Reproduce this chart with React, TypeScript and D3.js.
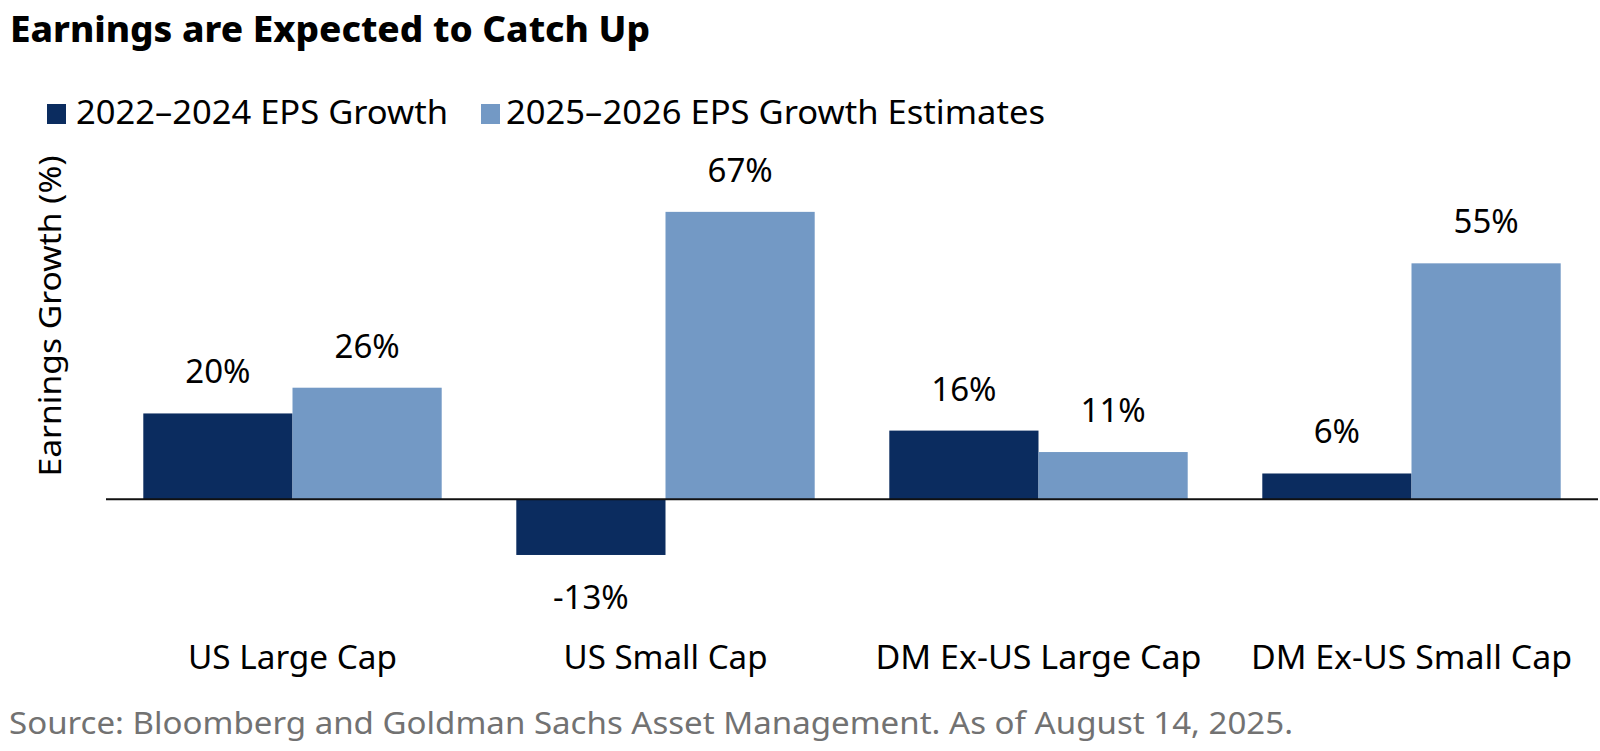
import React from "react";
import * as d3 from "d3";

const categories = ["US Large Cap", "US Small Cap", "DM Ex-US Large Cap", "DM Ex-US Small Cap"];
const seriesNames = ["2022–2024 EPS Growth", "2025–2026 EPS Growth Estimates"];
const growth2224 = [20, -13, 16, 6];
const growth2526 = [26, 67, 11, 55];
const seriesColors = ["#0b2c5f", "#7399c5"];

const W = 1600;
const H = 751;
const FONT = "'Noto Sans', 'Open Sans', sans-serif";

const catLabelWidths = [209, 204, 326, 321];

export default function App() {
  const x0 = d3
    .scaleBand<string>()
    .domain(categories)
    .range([106, 1598])
    .paddingInner(0.2)
    .paddingOuter(0.1);
  const x1 = d3
    .scaleBand<number>()
    .domain([0, 1])
    .range([0, x0.bandwidth()])
    .padding(0);
  const y = d3.scaleLinear().domain([-20, 70]).range([585, 199]);

  const series = [growth2224, growth2526];

  return (
    <svg
      width={W}
      height={H}
      style={{ position: "absolute", left: 0, top: 0, background: "#fff" }}
      fontFamily={FONT}
    >
      <rect x={0} y={0} width={W} height={H} fill="#fff" />
      {/* Title */}
      <text
        x={10}
        y={42}
        fontSize={35}
        fontWeight={800}
        fill="#000"
        textLength={640}
        lengthAdjust="spacingAndGlyphs"
      >
        Earnings are Expected to Catch Up
      </text>

      {/* Legend */}
      <rect x={47} y={104} width={19} height={20} fill={seriesColors[0]} />
      <text x={76} y={124} fontSize={32} fill="#000" textLength={372} lengthAdjust="spacingAndGlyphs">
        {seriesNames[0]}
      </text>
      <rect x={481} y={104} width={19} height={20} fill={seriesColors[1]} />
      <text x={506} y={124} fontSize={32} fill="#000" textLength={539} lengthAdjust="spacingAndGlyphs">
        {seriesNames[1]}
      </text>

      {/* Y axis label */}
      <text
        transform={`translate(61, 316) rotate(-90)`}
        textAnchor="middle"
        fontSize={31}
        fill="#000"
        textLength={321}
        lengthAdjust="spacingAndGlyphs"
      >
        Earnings Growth (%)
      </text>

      {/* Bars */}
      {categories.map((c, ci) => (
        <g key={c} transform={`translate(${x0(c)},0)`}>
          {series.map((s, si) => {
            const v = s[ci];
            const top = y(Math.max(0, v));
            const bottom = y(Math.min(0, v));
            const bx = x1(si)!;
            return (
              <g key={si}>
                <rect
                  x={bx}
                  y={top}
                  width={x1.bandwidth()}
                  height={bottom - top}
                  fill={seriesColors[si]}
                />
                <text
                  x={bx + x1.bandwidth() / 2}
                  y={v >= 0 ? top - 30 : bottom + 54}
                  textAnchor="middle"
                  fontSize={33}
                  fill="#000"
                >
                  {`${v}%`}
                </text>
              </g>
            );
          })}
        </g>
      ))}

      {/* Zero line */}
      <line x1={106} x2={1598} y1={y(0)} y2={y(0)} stroke="#111" strokeWidth={2} />

      {/* Category labels */}
      {categories.map((c, ci) => (
        <text
          key={c}
          x={x0(c)! + x0.bandwidth() / 2}
          y={669}
          textAnchor="middle"
          fontSize={32}
          fill="#000"
          textLength={catLabelWidths[ci]}
          lengthAdjust="spacingAndGlyphs"
        >
          {c}
        </text>
      ))}

      {/* Source */}
      <text
        x={9}
        y={734}
        fontSize={30}
        fill="#727272"
        textLength={1284}
        lengthAdjust="spacingAndGlyphs"
      >
        Source: Bloomberg and Goldman Sachs Asset Management. As of August 14, 2025.
      </text>
    </svg>
  );
}
